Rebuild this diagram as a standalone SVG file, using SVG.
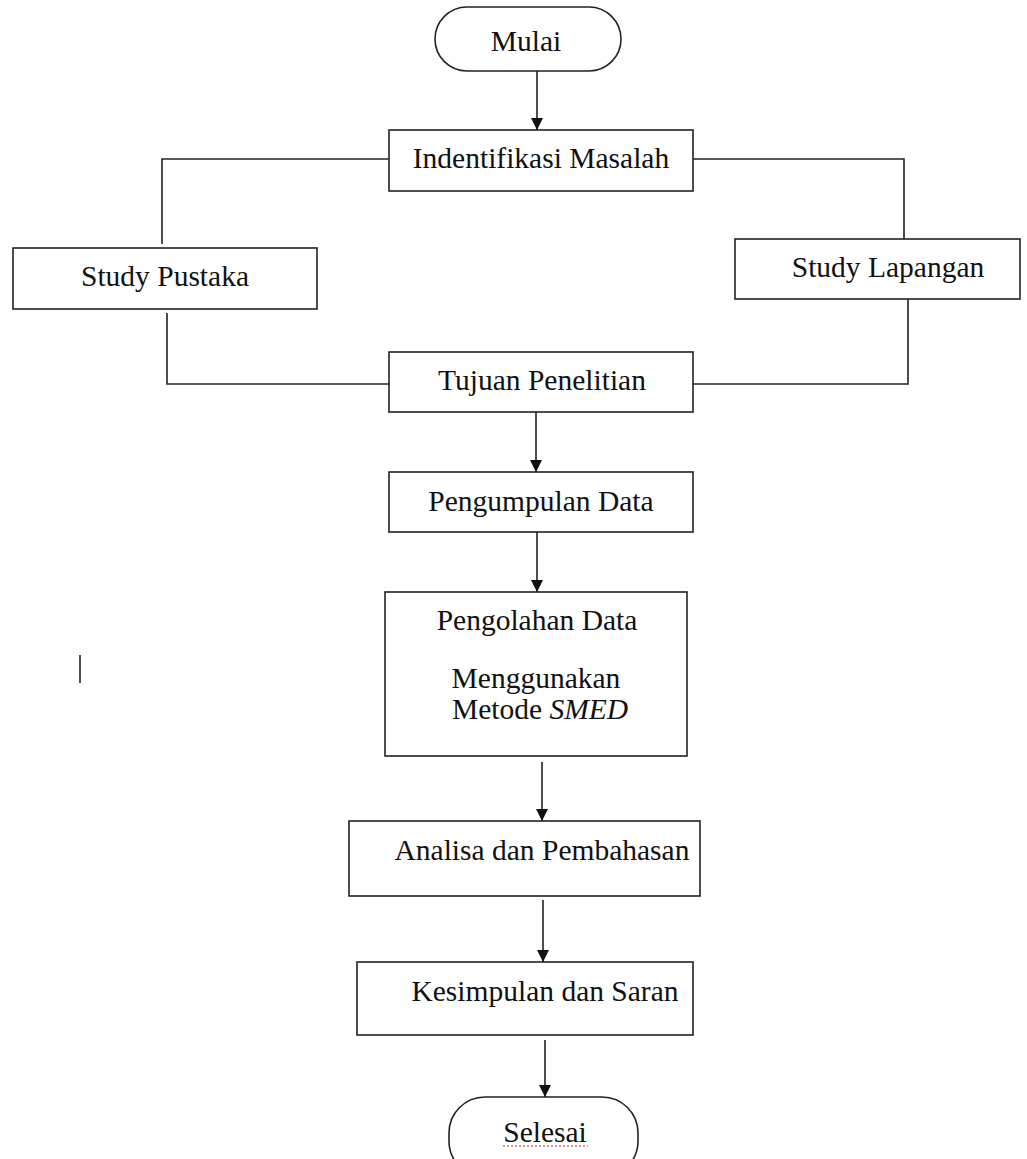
<svg xmlns="http://www.w3.org/2000/svg" width="1027" height="1159" viewBox="0 0 1027 1159">
<style>
.box{fill:#fff;stroke:#222;stroke-width:1.6}
.ln{fill:none;stroke:#222;stroke-width:1.6}
text{font-family:"Liberation Serif","Times New Roman",serif;font-size:29.5px;fill:#111;text-anchor:middle}
</style>
<defs>
<marker id="ah" viewBox="0 0 10 10" refX="10" refY="5" markerWidth="12" markerHeight="12" markerUnits="userSpaceOnUse" orient="auto">
<path d="M0,0 L10,5 L0,10 z" fill="#111"/>
</marker>
</defs>
<rect width="1027" height="1159" fill="#fff"/>
<g id="connectors">
<line class="ln" x1="537" y1="71" x2="537" y2="130" marker-end="url(#ah)"/>
<polyline class="ln" points="389,159 162,159 162,244"/>
<polyline class="ln" points="693,159 904,159 904,239"/>
<polyline class="ln" points="167,313 167,384 389,384"/>
<polyline class="ln" points="908,299 908,384 693,384"/>
<line class="ln" x1="536" y1="412" x2="536" y2="472" marker-end="url(#ah)"/>
<line class="ln" x1="537" y1="532" x2="537" y2="592" marker-end="url(#ah)"/>
<line class="ln" x1="542" y1="762" x2="542" y2="821" marker-end="url(#ah)"/>
<line class="ln" x1="543" y1="900" x2="543" y2="962" marker-end="url(#ah)"/>
<line class="ln" x1="545" y1="1040" x2="545" y2="1097" marker-end="url(#ah)"/>
</g>
<g id="mulai"><rect class="box" x="435" y="7" width="186" height="64" rx="32"/><text x="526" y="51">Mulai</text></g>
<g id="identifikasi"><rect class="box" x="389" y="130" width="304" height="61"/><text x="541" y="168">Indentifikasi Masalah</text></g>
<g id="study-pustaka"><rect class="box" x="13" y="248" width="304" height="61"/><text x="165" y="286">Study Pustaka</text></g>
<g id="study-lapangan"><rect class="box" x="735" y="239" width="285" height="60"/><text x="888" y="277">Study Lapangan</text></g>
<g id="tujuan"><rect class="box" x="389" y="352" width="304" height="60"/><text x="542" y="390">Tujuan Penelitian</text></g>
<g id="pengumpulan"><rect class="box" x="389" y="472" width="304" height="60"/><text x="541" y="511">Pengumpulan Data</text></g>
<g id="pengolahan"><rect class="box" x="385" y="592" width="302" height="164"/>
<text x="537" y="630">Pengolahan Data</text>
<text x="536" y="688">Menggunakan</text>
<text x="540" y="719">Metode <tspan font-style="italic">SMED</tspan></text></g>
<g id="analisa"><rect class="box" x="349" y="821" width="351" height="75"/><text x="542" y="860">Analisa dan Pembahasan</text></g>
<g id="kesimpulan"><rect class="box" x="357" y="962" width="336" height="73"/><text x="545" y="1001">Kesimpulan dan Saran</text></g>
<g id="selesai"><rect class="box" x="449" y="1097" width="189" height="80" rx="36"/><text x="545" y="1142">Selesai</text>
<line x1="503" y1="1146" x2="588" y2="1146" stroke="#d22" stroke-width="1" stroke-dasharray="2,2"/></g>
<line x1="80" y1="655" x2="80" y2="683" stroke="#111" stroke-width="1.5"/>
</svg>
